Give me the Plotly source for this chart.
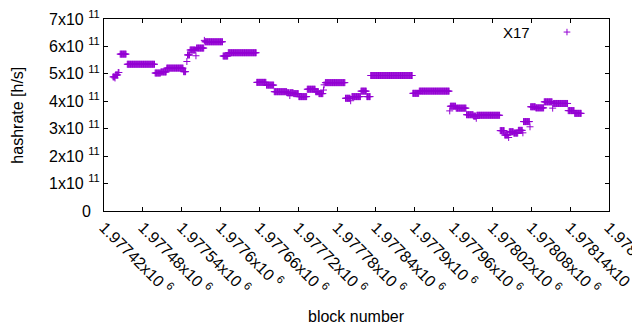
import numpy as np
import plotly.graph_objects as go

# Run-length data: block ranges (inclusive) and hashrate (x1e11 h/s)
run_start = [1977434, 1977437, 1977438, 1977442, 1977445, 1977456, 1977499, 1977508, 1977517, 1977543,
             1977548, 1977549, 1977553, 1977562, 1977563, 1977575, 1977576, 1977604, 1977612, 1977656,
             1977671, 1977683, 1977703, 1977707, 1977708, 1977713, 1977721, 1977734, 1977747, 1977752,
             1977759, 1977760, 1977762, 1977793, 1977801, 1977803, 1977817, 1977826, 1977832, 1977897,
             1977907, 1977954, 1977955, 1977964, 1977980, 1977991, 1977995, 1977996, 1978032, 1978039,
             1978045, 1978046, 1978053, 1978060, 1978067, 1978068, 1978078, 1978079, 1978087, 1978100,
             1978113, 1978114, 1978137, 1978147]
run_end = [1977436, 1977437, 1977441, 1977443, 1977454, 1977498, 1977507, 1977516, 1977542, 1977546,
           1977548, 1977552, 1977561, 1977562, 1977574, 1977575, 1977603, 1977611, 1977655, 1977670,
           1977682, 1977702, 1977706, 1977707, 1977712, 1977720, 1977733, 1977746, 1977751, 1977758,
           1977759, 1977760, 1977792, 1977800, 1977801, 1977816, 1977825, 1977831, 1977896, 1977906,
           1977953, 1977954, 1977963, 1977979, 1977990, 1977994, 1977995, 1978031, 1978038, 1978044,
           1978045, 1978052, 1978059, 1978066, 1978067, 1978077, 1978078, 1978086, 1978099, 1978112,
           1978113, 1978136, 1978146, 1978157]
run_value = [4.89, 4.85, 4.96, 5.05, 5.72, 5.35, 5.03, 5.07, 5.21, 5.08,
             5.45, 5.69, 5.87, 5.66, 5.94, 6.22, 6.17, 5.65, 5.77, 4.69,
             4.59, 4.35, 4.31, 4.21, 4.31, 4.28, 4.17, 4.44, 4.35, 4.28,
             4.41, 4.60, 4.68, 4.11, 4.02, 4.17, 4.37, 4.17, 4.94, 4.29,
             4.37, 3.65, 3.82, 3.75, 3.51, 3.46, 3.38, 3.49, 2.93, 2.77,
             2.68, 2.89, 2.84, 2.94, 2.85, 3.26, 3.07, 3.80, 3.76, 3.98,
             3.75, 3.92, 3.66, 3.56]

x_ticks = [1977420 + 60 * i for i in range(14)]
x_tick_labels = ["1.97742", "1.97748", "1.97754", "1.9776", "1.97766", "1.97772", "1.97778",
                 "1.97784", "1.9779", "1.97796", "1.97802", "1.97808", "1.97814", "1.9782"]
y_ticks = [0, 1e11, 2e11, 3e11, 4e11, 5e11, 6e11, 7e11]
y_tick_labels = ["0", "1", "2", "3", "4", "5", "6", "7"]

blocks = []
hashrate = []
for s, e, v in zip(run_start, run_end, run_value):
    for b in range(s, e + 1):
        blocks.append(b)
        hashrate.append(v * 1e11)

COLOR = "#9400d3"
FONT = "Liberation Sans"

fig = go.Figure()
fig.add_trace(go.Scatter(
    x=blocks, y=hashrate, mode="markers", name="X17", showlegend=False,
    marker=dict(symbol="cross-thin", size=5, color=COLOR, line=dict(color=COLOR, width=1)),
))

ytext = [t + "\u00a0\u00a0" if t == "0" else t + "x10 <sup>11</sup>" for t in y_tick_labels]
xtext = [t + "x10 <sup>6</sup>" for t in x_tick_labels]

axis_common = dict(showline=True, linecolor="black", linewidth=1, mirror="allticks",
                   ticks="inside", ticklen=4, tickcolor="black", showgrid=False, zeroline=False,
                   automargin=False, ticklabeloverflow="allow",
                   tickfont=dict(family=FONT, size=16, color="black"))

# the page body adds an 8px offset; the figure is sized/margined to compensate
fig.update_layout(
    template="none",
    width=632, height=322,
    margin=dict(l=96, r=31, t=11, b=119, pad=0),
    plot_bgcolor="white", paper_bgcolor="white",
    xaxis=dict(range=[1977420, 1978200], tickmode="array", tickvals=x_ticks, ticktext=xtext,
               tickangle=45, **axis_common),
    yaxis=dict(range=[0, 7e11], tickmode="array", tickvals=y_ticks, ticktext=ytext,
               **axis_common),
    annotations=[
        dict(text="hashrate [h/s]", xref="paper", yref="paper", x=-0.173, y=0.5, textangle=-90,
             showarrow=False, font=dict(family=FONT, size=16, color="black"),
             xanchor="center", yanchor="middle"),
        dict(text="block number", xref="paper", yref="paper", x=0.5, y=-0.55,
             showarrow=False, font=dict(family=FONT, size=16, color="black"),
             xanchor="center", yanchor="middle"),
        dict(text="X17", xref="paper", yref="paper", x=0.8475, y=0.932,
             showarrow=False, font=dict(family=FONT, size=15, color="black"),
             xanchor="right", yanchor="middle"),
    ],
    shapes=[
        dict(type="line", xref="paper", yref="paper", x0=0.9168 - 0.0066, x1=0.9168 + 0.0066,
             y0=0.932, y1=0.932, line=dict(color=COLOR, width=1)),
        dict(type="line", xref="paper", yref="paper", x0=0.9168, x1=0.9168,
             y0=0.932 - 0.017, y1=0.932 + 0.017, line=dict(color=COLOR, width=1)),
    ],
)

fig.write_html("out.html")
